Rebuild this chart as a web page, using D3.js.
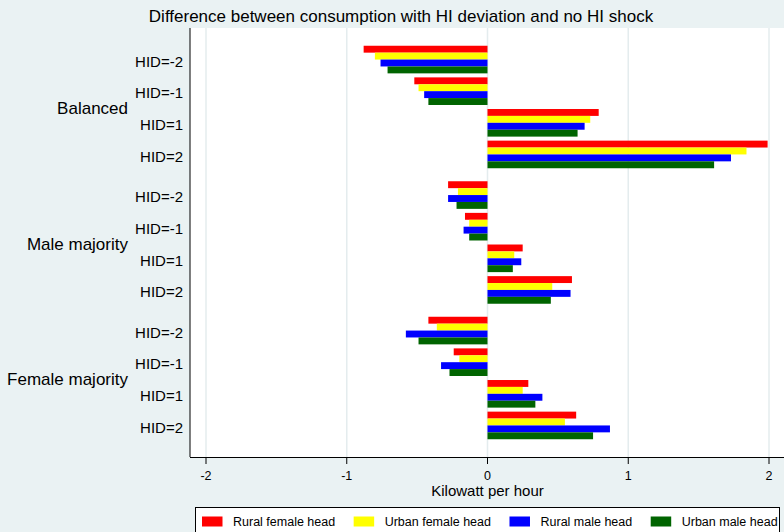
<!DOCTYPE html>
<html lang="en">
<head>
  <meta charset="UTF-8">
  <title>Difference between consumption with HI deviation and no HI shock</title>
  <style>
    body {
      margin: 0;
      padding: 0;
      background-color: #eaf2f3;
      font-family: "Liberation Sans", Arial, sans-serif;
    }
    svg { display: block; }
  </style>
</head>
<body>
  <svg id="chart"></svg>

  <script src="https://d3js.org/d3.v7.min.js"></script>
  <script>
    // categories and series
    const groups = ["Balanced", "Male majority", "Female majority"];
    const hids = ["HID=-2", "HID=-1", "HID=1", "HID=2"];
    const seriesNames = ["Rural female head", "Urban female head", "Rural male head", "Urban male head"];
    const seriesColors = ["#ff0000", "#ffff00", "#0000ff", "#006400"];
    const xTicks = [-2, -1, 0, 1, 2];

    // values, group by group, HID=-2..2 in each
    const ruralFemale = [-0.88, -0.52, 0.79, 1.99, -0.28, -0.16, 0.25, 0.60, -0.42, -0.24, 0.29, 0.63];
    const urbanFemale = [-0.80, -0.49, 0.73, 1.84, -0.21, -0.13, 0.19, 0.46, -0.36, -0.20, 0.25, 0.55];
    const ruralMale   = [-0.76, -0.45, 0.69, 1.73, -0.28, -0.17, 0.24, 0.59, -0.58, -0.33, 0.39, 0.87];
    const urbanMale   = [-0.71, -0.42, 0.64, 1.61, -0.22, -0.13, 0.18, 0.45, -0.49, -0.27, 0.34, 0.75];
    const seriesValues = [ruralFemale, urbanFemale, ruralMale, urbanMale];

    const width = 784;
    const height = 532;
    const plot = { left: 190, right: 792, top: 28, bottom: 457 };

    const svg = d3.select("#chart")
      .attr("width", width)
      .attr("height", height);

    // background + plot region
    svg.append("rect")
      .attr("width", width).attr("height", height)
      .attr("fill", "#eaf2f3");
    svg.append("rect")
      .attr("x", plot.left).attr("y", plot.top)
      .attr("width", plot.right - plot.left).attr("height", plot.bottom - plot.top)
      .attr("fill", "#ffffff");

    const x = d3.scaleLinear().domain([-2, 2]).range([206, 769]);

    const yGroup = d3.scaleBand()
      .domain(groups)
      .range([plot.top, plot.bottom])
      .paddingInner(0.096)
      .paddingOuter(0.131);

    const yHid = d3.scaleBand()
      .domain(hids)
      .range([0, yGroup.bandwidth()])
      .paddingInner(0.127)
      .paddingOuter(0);

    const ySeries = d3.scaleBand()
      .domain(seriesNames)
      .range([0, yHid.bandwidth()]);

    // gridlines
    svg.append("g")
      .selectAll("line")
      .data(xTicks)
      .join("line")
      .attr("x1", d => x(d)).attr("x2", d => x(d))
      .attr("y1", plot.top).attr("y2", plot.bottom)
      .attr("stroke", "#e4ecee")
      .attr("stroke-width", 1.5);

    // bars
    const rows = [];
    groups.forEach((g, gi) => {
      hids.forEach((h, hi) => {
        seriesNames.forEach((s, si) => {
          rows.push({ group: g, hid: h, series: s, color: seriesColors[si], value: seriesValues[si][gi * hids.length + hi] });
        });
      });
    });

    svg.append("g")
      .selectAll("rect")
      .data(rows)
      .join("rect")
      .attr("x", d => x(Math.min(0, d.value)))
      .attr("width", d => Math.abs(x(d.value) - x(0)))
      .attr("y", d => yGroup(d.group) + yHid(d.hid) + ySeries(d.series))
      .attr("height", ySeries.bandwidth())
      .attr("fill", d => d.color);

    // axes lines
    svg.append("line")
      .attr("x1", plot.left).attr("x2", plot.left)
      .attr("y1", plot.top).attr("y2", plot.bottom)
      .attr("stroke", "#000").attr("stroke-width", 1);
    svg.append("line")
      .attr("x1", plot.left).attr("x2", plot.right)
      .attr("y1", plot.bottom + 0.5).attr("y2", plot.bottom + 0.5)
      .attr("stroke", "#000").attr("stroke-width", 1);

    // x ticks + labels
    const xAxis = svg.append("g");
    xAxis.selectAll("line")
      .data(xTicks)
      .join("line")
      .attr("x1", d => x(d)).attr("x2", d => x(d))
      .attr("y1", plot.bottom).attr("y2", plot.bottom + 7)
      .attr("stroke", "#000");
    xAxis.selectAll("text")
      .data(xTicks)
      .join("text")
      .attr("x", d => x(d))
      .attr("y", 479.5)
      .attr("text-anchor", "middle")
      .attr("font-size", 12.5)
      .attr("fill", "#000")
      .text(d => d);

    svg.append("text")
      .attr("x", x(0))
      .attr("y", 496)
      .attr("text-anchor", "middle")
      .attr("font-size", 15)
      .text("Kilowatt per hour");

    // category labels
    groups.forEach(g => {
      svg.append("text")
        .attr("x", 128)
        .attr("y", yGroup(g) + yGroup.bandwidth() / 2 + 1.5)
        .attr("dy", "0.35em")
        .attr("text-anchor", "end")
        .attr("font-size", 17)
        .text(g);
      hids.forEach(h => {
        svg.append("text")
          .attr("x", 183)
          .attr("y", yGroup(g) + yHid(h) + yHid.bandwidth() / 2 + 2)
          .attr("dy", "0.35em")
          .attr("text-anchor", "end")
          .attr("font-size", 15)
          .text(h);
      });
    });

    // title
    svg.append("text")
      .attr("x", 401)
      .attr("y", 22)
      .attr("text-anchor", "middle")
      .attr("font-size", 17)
      .text("Difference between consumption with HI deviation and no HI shock");

    // legend
    const legend = svg.append("g");
    legend.append("rect")
      .attr("x", 195.5).attr("y", 507.5)
      .attr("width", 584).attr("height", 40)
      .attr("fill", "#ffffff")
      .attr("stroke", "#000");

    let lx = 202;
    seriesNames.forEach((s, i) => {
      legend.append("rect")
        .attr("x", lx).attr("y", 516.5)
        .attr("width", 20.5).attr("height", 10)
        .attr("fill", seriesColors[i]);
      const t = legend.append("text")
        .attr("x", lx + 31)
        .attr("y", 526)
        .attr("font-size", 12.5)
        .text(s);
      lx = lx + 31 + t.node().getComputedTextLength() + 18.5;
    });
  </script>
</body>
</html>
